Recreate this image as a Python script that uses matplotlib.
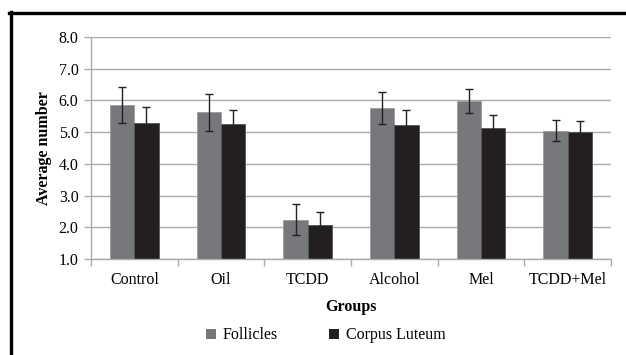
import matplotlib
matplotlib.use("Agg")
import matplotlib.pyplot as plt
import numpy as np
from matplotlib.lines import Line2D
from matplotlib.patches import Patch

groups = ["Control", "Oil", "TCDD", "Alcohol", "Mel", "TCDD+Mel"]
follicles = [5.85, 5.62, 2.24, 5.77, 5.98, 5.05]
follicles_err = [0.57, 0.58, 0.49, 0.50, 0.39, 0.34]
corpus_luteum = [5.28, 5.25, 2.08, 5.21, 5.12, 5.01]
corpus_luteum_err = [0.51, 0.45, 0.39, 0.49, 0.41, 0.33]
yticks = [1.0, 2.0, 3.0, 4.0, 5.0, 6.0, 7.0, 8.0]

plt.rcParams['font.family'] = ['Liberation Serif', 'DejaVu Serif']
fs = 11.5

fig = plt.figure(figsize=(6.26, 3.55), dpi=100)
ax = fig.add_axes([0.1454, 0.2704, 0.976 - 0.1454, 0.8958 - 0.2704])

x = np.arange(len(groups))
w = 0.28
c_f = '#77787b'
c_cl = '#231f20'
ax.bar(x - w/2, follicles, w, color=c_f, edgecolor='#9a9b9d', linewidth=0.6, zorder=2)
ax.bar(x + w/2, corpus_luteum, w, color=c_cl, edgecolor='#555555', linewidth=0.6, zorder=2)
ax.errorbar(x - w/2, follicles, yerr=follicles_err, fmt='none', ecolor='#222222',
            elinewidth=1.0, capsize=3, capthick=1.0, zorder=3)
ax.errorbar(x + w/2, corpus_luteum, yerr=corpus_luteum_err, fmt='none', ecolor='#222222',
            elinewidth=1.0, capsize=3, capthick=1.0, zorder=3)

ax.set_ylim(1.0, 8.0)
ax.set_xlim(-0.5, len(groups) - 0.5)
ax.set_yticks(yticks)
ax.set_yticklabels([f"{t:.1f}" for t in yticks], fontsize=fs)
ax.yaxis.grid(True, color='#ababab', linewidth=1.0, zorder=0)
ax.set_axisbelow(True)

ax.set_xticks(x)
ax.set_xticklabels(groups, fontsize=fs)
ax.tick_params(axis='x', length=0, pad=9)
ax.set_xticks(np.arange(-0.5, len(groups)), minor=True)
ax.tick_params(axis='x', which='minor', length=5, color='#ababab', width=1.0)
ax.tick_params(axis='y', length=5, color='#ababab', width=1.0, pad=4)

for s in ['top', 'right']:
    ax.spines[s].set_visible(False)
for s in ['left', 'bottom']:
    ax.spines[s].set_color('#ababab')
    ax.spines[s].set_linewidth(1.0)

ax.set_ylabel("Average number", fontsize=fs, fontweight='bold', labelpad=5)
ax.set_xlabel("Groups", fontsize=fs, fontweight='bold', labelpad=8)

handles = [Patch(facecolor=c_f, label='Follicles'), Patch(facecolor=c_cl, label='Corpus Luteum')]
fig.legend(handles=handles, loc='center', bbox_to_anchor=(0.52, 0.055), ncol=2, frameon=False,
           fontsize=fs, handlelength=0.65, handleheight=0.65, handletextpad=0.4, columnspacing=3.2)

# figure border lines (top and left)
fig.add_artist(Line2D([9/626, 1.0], [1 - 12.5/355, 1 - 12.5/355], color='black', linewidth=2.4,
                      transform=fig.transFigure))
fig.add_artist(Line2D([10.5/626, 10.5/626], [0, 1 - 11.5/355], color='black', linewidth=2.4,
                      transform=fig.transFigure))

fig.savefig("out.png", dpi=100)
